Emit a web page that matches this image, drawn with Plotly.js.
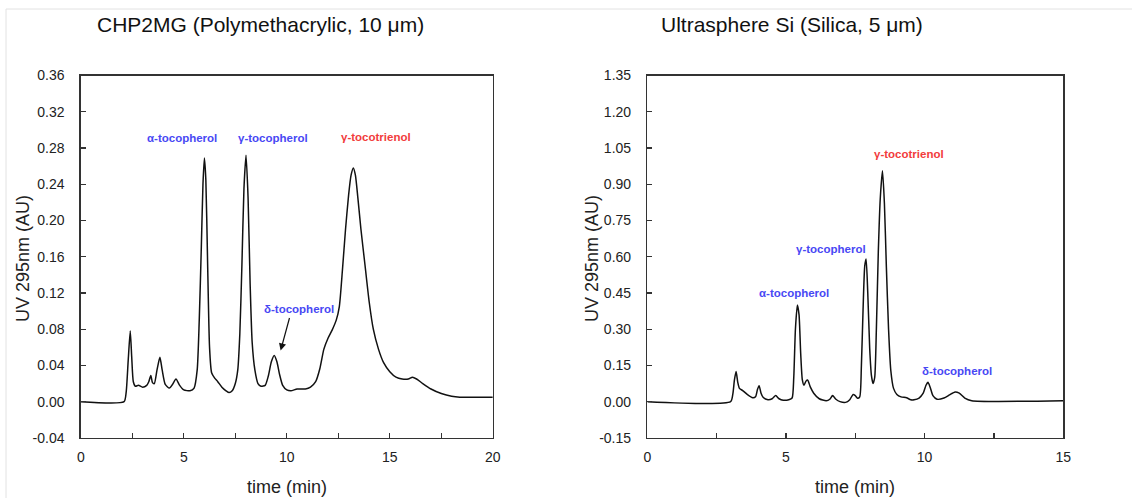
<!DOCTYPE html>
<html>
<head>
<meta charset="utf-8">
<script src="https://cdn.plot.ly/plotly-3.0.1.min.js"></script>
<style>html,body{margin:0;padding:0;background:#fff;}#chart{width:1132px;height:498px;}</style>
</head>
<body>
<div id="chart"></div>
<script>
// Left panel: CHP2MG (Polymethacrylic, 10 µm)
const leftTime = [0,2.10,2.20,2.30,2.40,2.47,2.55,2.65,2.80,3.00,3.20,3.30,3.40,3.48,3.57,3.70,3.84,3.95,4.10,4.30,4.45,4.62,4.80,5.00,5.30,5.50,5.65,5.75,5.85,5.93,6.00,6.07,6.15,6.25,6.35,6.50,6.65,6.85,7.05,7.20,7.35,7.50,7.62,7.72,7.82,7.92,8.02,8.12,8.22,8.32,8.45,8.60,8.75,8.95,9.10,9.25,9.39,9.52,9.65,9.80,10.00,10.20,10.50,10.90,11.15,11.40,11.60,11.80,12.00,12.20,12.40,12.55,12.70,12.85,13.00,13.12,13.23,13.33,13.45,13.60,13.80,14.00,14.20,14.45,14.70,15.00,15.30,15.60,15.90,16.10,16.30,16.60,17.00,17.50,18.00,18.40,20.00];
const leftUV = [0,0,0.010,0.045,0.078,0.050,0.022,0.017,0.018,0.016,0.018,0.022,0.029,0.021,0.020,0.035,0.049,0.035,0.019,0.015,0.019,0.025,0.018,0.013,0.012,0.015,0.035,0.090,0.170,0.240,0.269,0.245,0.160,0.060,0.032,0.026,0.022,0.016,0.012,0.010,0.012,0.020,0.035,0.075,0.150,0.235,0.272,0.225,0.130,0.065,0.035,0.020,0.017,0.018,0.028,0.044,0.051,0.044,0.030,0.018,0.013,0.012,0.014,0.014,0.016,0.022,0.036,0.058,0.070,0.079,0.090,0.105,0.145,0.190,0.228,0.250,0.258,0.250,0.225,0.190,0.150,0.110,0.080,0.058,0.043,0.033,0.027,0.025,0.025,0.027,0.025,0.020,0.014,0.009,0.006,0.005,0.005];

// Right panel: Ultrasphere Si (Silica, 5 µm)
const rightTime = [0,3.00,3.08,3.14,3.20,3.26,3.32,3.45,3.60,3.80,3.90,3.97,4.03,4.10,4.18,4.35,4.50,4.63,4.75,4.90,5.10,5.22,5.28,5.34,5.41,5.47,5.53,5.59,5.65,5.72,5.78,5.88,6.00,6.20,6.45,6.58,6.68,6.80,6.95,7.15,7.30,7.42,7.50,7.58,7.66,7.72,7.78,7.84,7.89,7.95,8.02,8.08,8.14,8.20,8.26,8.33,8.40,8.48,8.55,8.62,8.70,8.78,8.88,9.00,9.15,9.35,9.50,9.62,9.80,9.95,10.05,10.12,10.20,10.30,10.45,10.70,10.90,11.10,11.25,11.45,11.70,15.00];
const rightUV = [0,0,0.030,0.090,0.125,0.080,0.055,0.045,0.030,0.016,0.020,0.050,0.066,0.035,0.017,0.008,0.012,0.025,0.012,0.006,0.008,0.015,0.100,0.300,0.400,0.360,0.200,0.090,0.068,0.085,0.090,0.060,0.035,0.012,0.004,0.010,0.025,0.010,0.000,-0.003,0.008,0.030,0.025,0.014,0.020,0.150,0.380,0.560,0.590,0.450,0.220,0.110,0.075,0.100,0.300,0.620,0.840,0.956,0.820,0.560,0.300,0.130,0.055,0.030,0.020,0.016,0.008,0.008,0.015,0.035,0.068,0.080,0.060,0.025,0.010,0.015,0.028,0.040,0.035,0.015,0.004,0.004];

// Peak labels
const leftLabels = ["α-tocopherol","γ-tocopherol","γ-tocotrienol","δ-tocopherol"];
const leftLabelX = [4.91,9.33,14.33,10.57];
const leftLabelY = [0.291,0.291,0.292,0.102];
const rightLabels = ["α-tocopherol","γ-tocopherol","γ-tocotrienol","δ-tocopherol"];
const rightLabelX = [5.29,6.64,9.45,11.18];
const rightLabelY = [0.449,0.633,1.026,0.128];
const labelColors = ["#4848f4","#4848f4","#f23c3c","#4848f4"];

const leftYTicks = [-0.04,0,0.04,0.08,0.12,0.16,0.20,0.24,0.28,0.32,0.36];
const rightYTicks = [-0.15,0,0.15,0.30,0.45,0.60,0.75,0.90,1.05,1.20,1.35];

const W = 1132, H = 498;
const px = v => v / W;
const py = v => 1 - v / H;

const lineStyle = {color:'#111', width:1.5};
const traces = [
  {x:leftTime, y:leftUV, type:'scatter', mode:'lines', line:Object.assign({shape:'spline', smoothing:0.6}, lineStyle), xaxis:'x', yaxis:'y', hoverinfo:'skip'},
  {x:rightTime, y:rightUV, type:'scatter', mode:'lines', line:Object.assign({shape:'spline', smoothing:0.6}, lineStyle), xaxis:'x2', yaxis:'y2', hoverinfo:'skip'}
];

const FAM = 'Arial, "Liberation Sans", sans-serif';
const tickFont = {family:FAM, size:14, color:'#222'};
const titleFont = {family:FAM, size:18, color:'#222'};

function xAxis(domain, max, anchor){
  return {domain:domain, range:[0,max], anchor:anchor, showgrid:false, zeroline:false,
    showline:true, mirror:true, linecolor:'#333', linewidth:1.5,
    ticks:'inside', ticklen:5, tickwidth:1.2, tickcolor:'#333', dtick:5, tick0:0,
    minor:{dtick:2.5, tick0:0, ticks:'inside', ticklen:5, tickwidth:1.2, tickcolor:'#333'},
    tickfont:tickFont, ticklabelstandoff:6, fixedrange:true};
}
function yAxis(domain, ticks, anchor){
  return {domain:domain, range:[ticks[0], ticks[ticks.length-1]], anchor:anchor, showgrid:false, zeroline:false,
    showline:true, mirror:true, linecolor:'#333', linewidth:1.5,
    ticks:'inside', ticklen:5, tickwidth:1.2, tickcolor:'#333',
    tickmode:'array', tickvals:ticks, ticktext:ticks.map(v=>v.toFixed(2)),
    tickfont:tickFont, ticklabelstandoff:12, fixedrange:true};
}

const yDom = [(H-437.9)/H, (H-75.5)/H];
const annotations = [];
const C = {xanchor:'center', yanchor:'middle', showarrow:false};
leftLabels.forEach((t,i)=>annotations.push(Object.assign({x:leftLabelX[i], y:leftLabelY[i], xref:'x', yref:'y', text:t,
  font:{family:FAM, size:11.5, color:labelColors[i], weight:700}}, C)));
rightLabels.forEach((t,i)=>annotations.push(Object.assign({x:rightLabelX[i], y:rightLabelY[i], xref:'x2', yref:'y2', text:t,
  font:{family:FAM, size:11.5, color:labelColors[i], weight:700}}, C)));
// arrow to delta-tocopherol on left
annotations.push({x:9.70, y:0.0564, xref:'x', yref:'y', ax:10.15, ay:0.094, axref:'x', ayref:'y', text:'', showarrow:true,
  arrowhead:2, arrowsize:1.2, arrowwidth:1.2, arrowcolor:'#111'});
// panel titles
annotations.push(Object.assign({x:px(260), y:py(25), xref:'paper', yref:'paper', text:'CHP2MG (Polymethacrylic, 10 μm)',
  font:{family:FAM, size:21, color:'#111'}}, C));
annotations.push(Object.assign({x:px(792), y:py(25), xref:'paper', yref:'paper', text:'Ultrasphere Si (Silica, 5 μm)',
  font:{family:FAM, size:21, color:'#111'}}, C));
// axis titles
annotations.push(Object.assign({x:px(23), y:py(259), xref:'paper', yref:'paper', text:'UV 295nm (AU)', textangle:-90, font:titleFont}, C));
annotations.push(Object.assign({x:px(592), y:py(259), xref:'paper', yref:'paper', text:'UV 295nm (AU)', textangle:-90, font:titleFont}, C));
annotations.push(Object.assign({x:px(287), y:py(487), xref:'paper', yref:'paper', text:'time (min)', font:titleFont}, C));
annotations.push(Object.assign({x:px(855), y:py(487), xref:'paper', yref:'paper', text:'time (min)', font:titleFont}, C));

const layout = {
  width:W, height:H, margin:{l:0,r:0,t:0,b:0}, paper_bgcolor:'#fff', plot_bgcolor:'#fff', showlegend:false,
  xaxis:xAxis([px(80.8), px(492.8)], 20, 'y'),
  yaxis:yAxis(yDom, leftYTicks, 'x'),
  xaxis2:xAxis([px(647.4), px(1063.2)], 15, 'y2'),
  yaxis2:yAxis(yDom, rightYTicks, 'x2'),
  annotations:annotations,
  shapes:[
    {type:'line', xref:'paper', yref:'paper', x0:px(6), x1:1, y0:py(9), y1:py(9), line:{color:'#e2e2e2', width:1}},
    {type:'line', xref:'paper', yref:'paper', x0:px(6), x1:px(6), y0:py(9), y1:0, line:{color:'#e2e2e2', width:1}}
  ]
};

Plotly.newPlot('chart', traces, layout, {staticPlot:true, displayModeBar:false});
</script>
</body>
</html>
